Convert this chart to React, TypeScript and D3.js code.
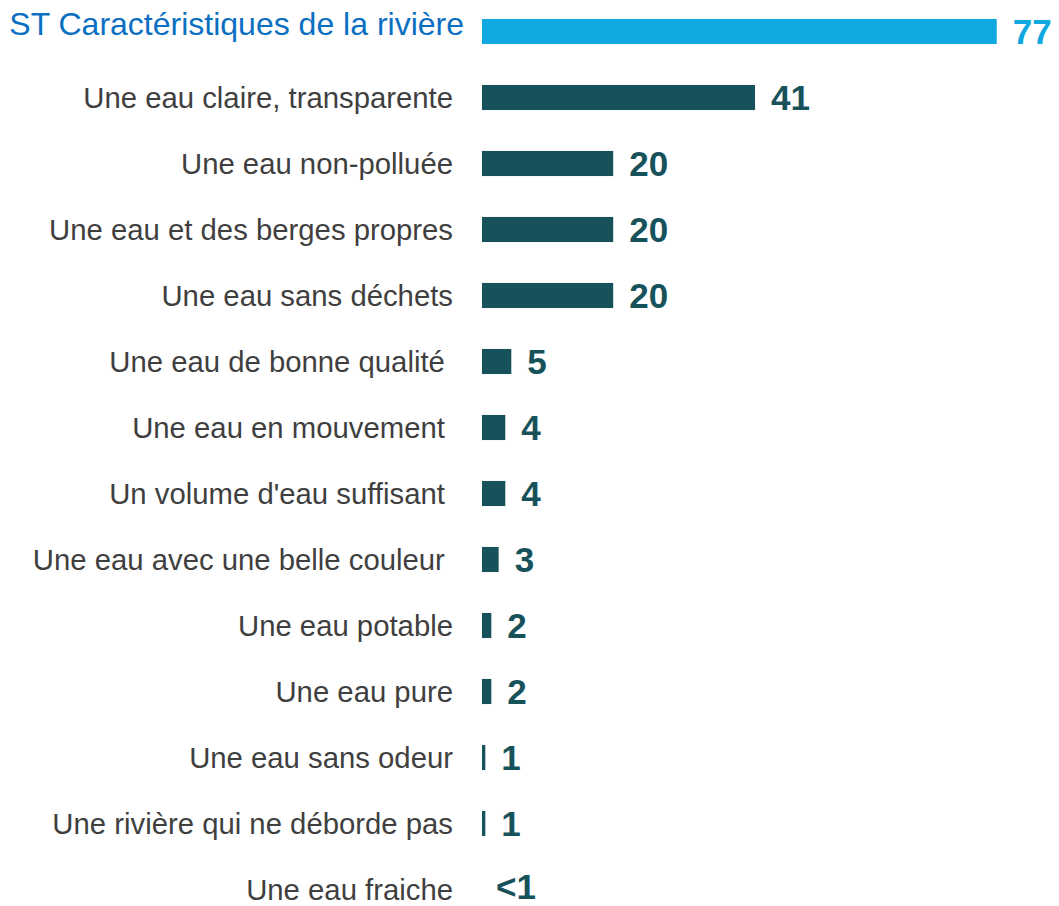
import React from "react";
import * as d3 from "d3";

// Libellés (les espaces insécables finaux reproduisent le décalage de certains libellés)
const categories = [
  "ST Caractéristiques de la rivière",
  "Une eau claire, transparente",
  "Une eau non-polluée",
  "Une eau et des berges propres",
  "Une eau sans déchets",
  "Une eau de bonne qualité\u00a0",
  "Une eau en mouvement\u00a0",
  "Un volume d'eau suffisant\u00a0",
  "Une eau avec une belle couleur\u00a0",
  "Une eau potable",
  "Une eau pure",
  "Une eau sans odeur",
  "Une rivière qui ne déborde pas",
  "Une eau fraiche",
];

// Longueurs de barres estimées sur l'image
const values = [77.3, 41, 19.7, 19.7, 19.7, 4.4, 3.5, 3.5, 2.5, 1.4, 1.4, 0.5, 0.5, 0];

// Étiquettes affichées
const valueLabels = ["77", "41", "20", "20", "20", "5", "4", "4", "3", "2", "2", "1", "1", "<1"];

const W = 1059;
const H = 906;
const FONT = "'Liberation Sans', Arial, Helvetica, sans-serif";
const TEAL = "#17525B";
const BLUE_BAR = "#0FA8E0";
const BLUE_TITLE = "#0A6FC2";
const GREY = "#3F3F3F";

export default function App() {
  const x = d3.scaleLinear().domain([0, 100]).range([482, 482 + 665.9]);
  const y = d3
    .scaleBand<string>()
    .domain(categories)
    .range([-1.5, -1.5 + 14 * 66])
    .paddingInner(0.62)
    .paddingOuter(0.31);

  const bw = y.bandwidth();
  const last = categories.length - 1;

  return (
    <svg
      width={W}
      height={H}
      style={{ position: "absolute", left: 0, top: 0, background: "#fff" }}
      fontFamily={FONT}
    >
      {categories.map((c, i) => {
        const cy = (y(c) as number) + bw / 2;
        const isTotal = i === 0;
        const v = values[i];
        return (
          <g key={i}>
            {v > 0 && (
              <rect
                x={x(0)}
                y={y(c)}
                width={x(v) - x(0)}
                height={bw}
                fill={isTotal ? BLUE_BAR : TEAL}
              />
            )}
            <text
              x={isTotal ? 464 : 453}
              y={isTotal ? 35 : cy + 0.36 * 29}
              textAnchor="end"
              fontSize={isTotal ? 32 : 29.3}
              fill={isTotal ? BLUE_TITLE : GREY}
              style={{ whiteSpace: "pre" }}
            >
              {c}
            </text>
            <text
              x={x(v) + (i === last ? 14 : 16)}
              y={cy + 0.36 * 35 - (i === last ? 3 : 0)}
              fontSize={35}
              fontWeight="bold"
              fill={isTotal ? BLUE_BAR : TEAL}
            >
              {valueLabels[i]}
            </text>
          </g>
        );
      })}
    </svg>
  );
}
